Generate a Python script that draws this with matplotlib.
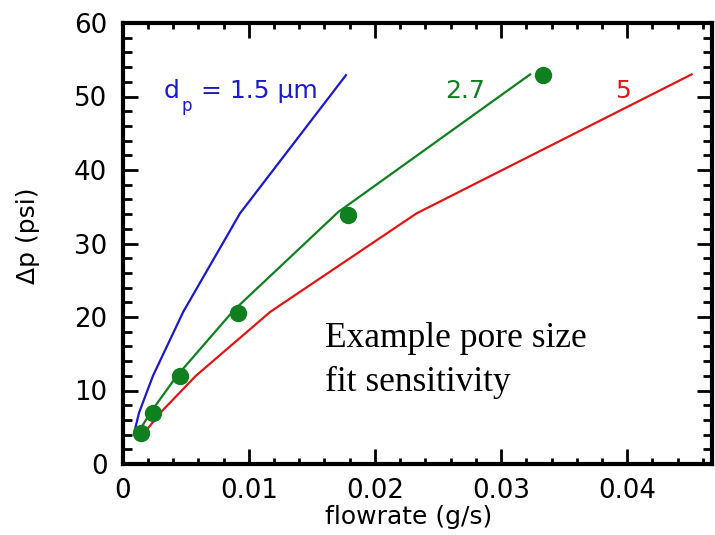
import matplotlib
matplotlib.use("Agg")
import matplotlib.pyplot as plt
from matplotlib.ticker import MultipleLocator

# Model curves for three pore diameters (flowrate in g/s, pressure drop in psi)
flow_d15 = [0.0009, 0.0013, 0.0024, 0.0048, 0.0093, 0.0177]
dp_d15 = [4.2, 7.0, 12.0, 20.7, 34.1, 52.9]

flow_d27 = [0.0012, 0.0022, 0.0043, 0.0088, 0.0171, 0.0323]
dp_d27 = [4.2, 7.0, 12.0, 20.9, 34.3, 53.0]

flow_d5 = [0.0017, 0.0030, 0.0058, 0.0117, 0.0233, 0.0451]
dp_d5 = [4.2, 7.0, 12.0, 20.7, 34.1, 53.0]

# Measured points
flow_meas = [0.00143, 0.00239, 0.00457, 0.00916, 0.01785, 0.0333]
dp_meas = [4.2, 6.9, 12.0, 20.6, 33.9, 52.9]

x_ticks = [0, 0.01, 0.02, 0.03, 0.04]
x_tick_labels = ["0", "0.01", "0.02", "0.03", "0.04"]
y_ticks = [0, 10, 20, 30, 40, 50, 60]

BLUE = "#1a1acc"
GREEN = "#0f7f1f"
RED = "#e01616"
SANS = ["DejaVu Sans"]
SERIF = ["Liberation Serif", "DejaVu Serif"]
FS = 18

fig = plt.figure(figsize=(7.15, 5.35), dpi=100)
W, H = 715, 535
ax = fig.add_axes([122.7 / W, 1 - 464 / H, (711.7 - 122.7) / W, (464 - 23) / H])

ax.plot(flow_d15, dp_d15, color=BLUE, lw=1.6)
ax.plot(flow_d27, dp_d27, color=GREEN, lw=1.6)
ax.plot(flow_d5, dp_d5, color=RED, lw=1.6)
ax.plot(flow_meas, dp_meas, "o", color=GREEN, ms=11.5, mec=GREEN, zorder=5)

ax.set_xlim(0, 0.0467)
ax.set_ylim(0, 60)
ax.set_xticks(x_ticks)
ax.set_xticklabels(x_tick_labels)
ax.set_yticks(y_ticks)
ax.xaxis.set_minor_locator(MultipleLocator(0.002))
ax.yaxis.set_minor_locator(MultipleLocator(2))

for s in ax.spines.values():
    s.set_linewidth(3.0)
ax.tick_params(which="both", direction="in", top=True, right=True, width=2.0)
ax.tick_params(which="major", length=11, labelsize=18.7, pad=10)
ax.tick_params(axis="x", which="minor", length=4.5)
ax.tick_params(axis="y", which="minor", length=6.5)
ax.tick_params(axis="y", which="major", pad=11)
for lab in ax.get_xticklabels() + ax.get_yticklabels():
    lab.set_family(SANS)

ax.set_xlabel("flowrate (g/s)", fontsize=FS, family=SANS)
ax.set_ylabel("Δp (psi)", fontsize=FS, family=SANS)
ax.xaxis.set_label_coords(0.486, -0.093)
ax.yaxis.set_label_coords(-0.14, 0.517)

# Curve annotations
ax.text(0.00322, 49.8, "d", color=BLUE, fontsize=FS, family=SANS, va="baseline")
ax.text(0.00470, 48.0, "p", color=BLUE, fontsize=12, family=SANS, va="baseline")
ax.text(0.00620, 49.8, "= 1.5 μm", color=BLUE, fontsize=FS, family=SANS, va="baseline")
ax.text(0.02713, 49.8, "2.7", color=GREEN, fontsize=FS, family=SANS,
        va="baseline", ha="center")
ax.text(0.03963, 49.8, "5", color=RED, fontsize=FS, family=SANS,
        va="baseline", ha="center")

ax.text(0.01604, 15.96, "Example pore size", fontsize=25.5,
        family=SERIF, va="baseline", ha="left")
ax.text(0.01604, 9.97, "fit sensitivity", fontsize=25.5,
        family=SERIF, va="baseline", ha="left")

fig.savefig("out.png", dpi=100)
